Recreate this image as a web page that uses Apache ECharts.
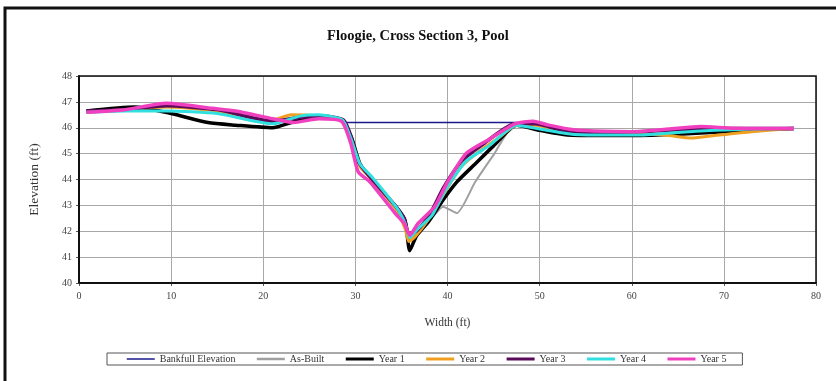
<!DOCTYPE html>
<html>
<head>
<meta charset="utf-8">
<script src="https://cdn.jsdelivr.net/npm/echarts@6/dist/echarts.min.js"></script>
<style>
  html, body { margin: 0; padding: 0; background: #fff; }
  #chart { width: 836px; height: 381px; }
</style>
</head>
<body>
<div id="chart"></div>
<script>
// Survey of the pool cross section: station (ft) vs elevation (ft)
const bankfull = [[28.7, 46.2], [47.6, 46.2]];
const asBuilt = [[0.8,46.65],[6,46.75],[10,46.8],[15,46.65],[21,46.25],[24,46.45],[26,46.45],[28.6,46.3],[29.6,45.5],[30.5,44.5],[31.8,44.0],[34.5,42.8],[35.5,42.3],[36,41.7],[37,42.1],[38.5,42.6],[39.5,42.95],[41,42.7],[43,43.9],[45,44.95],[47.3,46.1],[50,45.95],[54,45.8],[60,45.75],[66,45.8],[72,45.9],[77.6,45.97]];
const year1 = [[0.8,46.65],[6,46.8],[10,46.55],[14,46.2],[17,46.1],[21,46.0],[23.5,46.25],[26,46.4],[28.5,46.3],[29.6,45.6],[30.5,44.6],[31.8,44.0],[34.5,42.9],[35.4,42.4],[35.9,41.25],[36.6,41.8],[38,42.4],[39.5,43.2],[41,43.9],[43,44.6],[45,45.3],[47.5,46.1],[50,45.9],[53,45.72],[57,45.7],[60,45.7],[65,45.75],[70,45.85],[74,45.93],[77.6,45.97]];
const year2 = [[0.8,46.6],[5,46.7],[9.5,46.8],[15,46.65],[21,46.3],[23,46.5],[26,46.45],[28.5,46.3],[29.6,45.5],[30.5,44.5],[31.8,44.0],[34.5,42.8],[35.4,42.1],[35.8,41.6],[36.5,41.8],[38,42.5],[39.7,43.5],[41.5,44.5],[43.5,45.1],[45.5,45.6],[47.5,46.1],[49.5,46.1],[53,45.85],[57,45.8],[61,45.78],[64,45.7],[66.5,45.6],[69,45.7],[73,45.85],[77.6,45.97]];
const year3 = [[0.8,46.65],[5,46.7],[9.5,46.85],[15,46.7],[21,46.25],[24,46.4],[26.5,46.45],[28.7,46.3],[29.5,45.7],[30.3,44.7],[31.6,44.1],[34.3,43.0],[35.3,42.5],[35.8,41.9],[36.6,42.0],[38,42.6],[39.6,43.7],[41.5,44.7],[44,45.4],[47.3,46.15],[49.5,46.15],[53,45.85],[57,45.82],[61,45.85],[65,45.92],[68.5,45.98],[73,45.97],[77.6,45.97]];
const year4 = [[0.8,46.6],[5,46.65],[9.5,46.65],[15,46.55],[21,46.15],[24,46.45],[26,46.5],[28.6,46.3],[29.5,45.6],[30.5,44.6],[31.8,44.1],[34.5,42.9],[35.4,42.3],[35.9,41.75],[36.8,42.1],[38.3,42.6],[39.8,43.6],[42,44.7],[44.5,45.3],[47.5,46.1],[50,45.95],[53.5,45.75],[57,45.72],[61,45.72],[65,45.82],[69,45.9],[73,45.95],[77.6,45.97]];
const year5 = [[0.8,46.6],[5,46.7],[9.5,46.95],[14.5,46.75],[17,46.65],[21,46.35],[23.3,46.2],[26,46.35],[28.5,46.25],[29.5,45.4],[30.3,44.3],[31.6,43.9],[34.3,42.7],[35.3,42.3],[35.9,41.85],[36.8,42.3],[38.6,42.95],[40,43.9],[42,45.0],[44.5,45.55],[47.3,46.15],[49.3,46.25],[51,46.1],[53.7,45.92],[57,45.86],[60,45.85],[64,45.95],[67.5,46.05],[71,45.98],[77.6,45.97]];

const seriesNames = ['Bankfull Elevation', 'As-Built', 'Year 1', 'Year 2', 'Year 3', 'Year 4', 'Year 5'];
const seriesData = [bankfull, asBuilt, year1, year2, year3, year4, year5];
const seriesColors = ['#1a1a8c', '#a0a0a0', '#000000', '#f0a020', '#5a0a5a', '#30e0e0', '#f040c0'];
const seriesWidths = [1.5, 2, 3.5, 3, 3.5, 3, 3.5];
const legendWidths = [1.5, 2.5, 3, 3, 3, 3, 3];

const serif = '"Liberation Serif", "DejaVu Serif", serif';

const chart = echarts.init(document.getElementById('chart'), null, { renderer: 'canvas' });

chart.setOption({
  backgroundColor: '#ffffff',
  animation: false,
  title: {
    text: 'Floogie, Cross Section 3, Pool',
    left: 'center',
    top: 24,
    textStyle: { fontFamily: serif, fontSize: 14.5, fontWeight: 'bold', color: '#111' }
  },
  grid: { left: 79, right: 20, top: 76, bottom: 98, containLabel: false },
  xAxis: {
    type: 'value',
    min: 0, max: 80, interval: 10,
    name: 'Width (ft)',
    nameLocation: 'middle',
    nameGap: 34,
    nameTextStyle: { fontFamily: serif, fontSize: 11.5, color: '#333' },
    axisLine: { show: true, onZero: false, lineStyle: { color: '#111', width: 2 } },
    axisTick: { show: true, length: 3, lineStyle: { color: '#555' } },
    axisLabel: { fontFamily: serif, fontSize: 10, color: '#444', margin: 8 },
    splitLine: { show: true, lineStyle: { color: '#a8a8a8', width: 1 } }
  },
  yAxis: {
    type: 'value',
    min: 40, max: 48, interval: 1,
    name: 'Elevation (ft)',
    nameLocation: 'middle',
    nameGap: 38,
    nameTextStyle: { fontFamily: serif, fontSize: 13.5, color: '#333' },
    axisLine: { show: true, onZero: false, lineStyle: { color: '#111', width: 2 } },
    axisTick: { show: true, length: 3, lineStyle: { color: '#555' } },
    axisLabel: { fontFamily: serif, fontSize: 10, color: '#444', margin: 7 },
    splitLine: { show: true, lineStyle: { color: '#a8a8a8', width: 1 } }
  },
  legend: {
    data: seriesNames.map((name, i) => ({ name: name, lineStyle: { width: legendWidths[i] } })),
    left: 107,
    top: 353,
    padding: [1, 16, 1, 19],
    itemGap: 20,
    itemWidth: 28,
    itemHeight: 10,
    borderColor: '#555',
    borderWidth: 1,
    itemStyle: { color: 'rgba(0,0,0,0)', borderWidth: 0, opacity: 0 },
    textStyle: { fontFamily: serif, fontSize: 10, color: '#333' }
  },
  graphic: [
    {
      type: 'rect',
      shape: { x: 5, y: 8, width: 900, height: 500 },
      style: { fill: 'none', stroke: '#111', lineWidth: 3 },
      silent: true
    },
    {
      type: 'rect',
      shape: { x: 79, y: 76, width: 737, height: 207 },
      style: { fill: 'none', stroke: '#111', lineWidth: 1.5 },
      silent: true,
      z: 10
    }
  ],
  series: seriesNames.map((name, i) => ({
    name: name,
    type: 'line',
    data: seriesData[i],
    symbol: 'none',
    smooth: 0.2,
    lineStyle: { color: seriesColors[i], width: seriesWidths[i] },
    itemStyle: { color: seriesColors[i] },
    z: 2 + i
  }))
});
</script>
</body>
</html>
